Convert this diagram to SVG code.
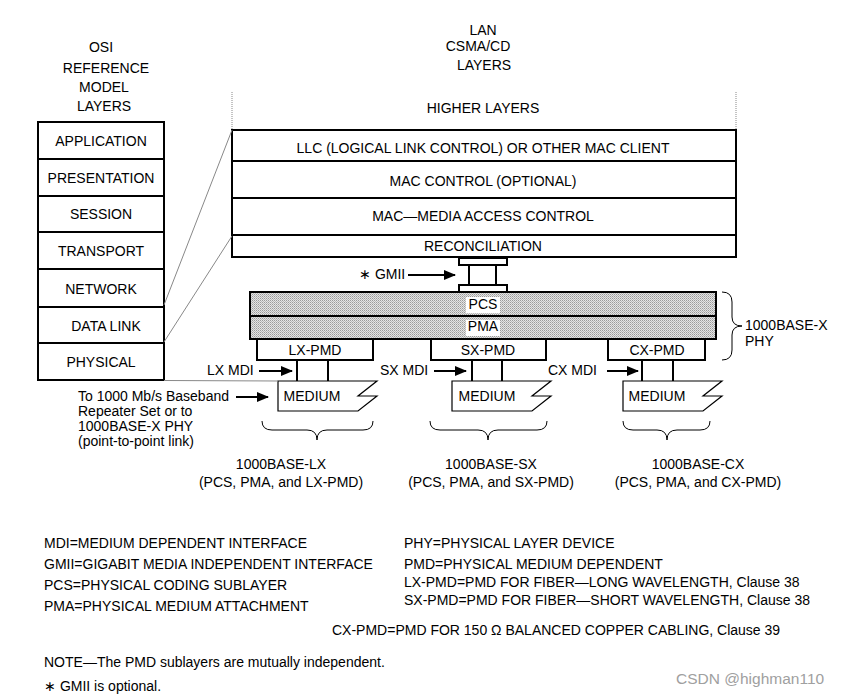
<svg xmlns="http://www.w3.org/2000/svg" width="841" height="697" viewBox="0 0 841 697">
<defs>
<pattern id="hatch" width="2" height="2" patternUnits="userSpaceOnUse">
<rect width="2" height="2" fill="#e4e4e4"/>
<rect width="1" height="1" fill="#9a9a9a"/>
<rect x="1" y="1" width="1" height="1" fill="#b8b8b8"/>
</pattern>
<marker id="arr" markerWidth="12" markerHeight="10" refX="11" refY="5" orient="auto" markerUnits="userSpaceOnUse">
<path d="M0,0 L12,5 L0,10 Z" fill="#000"/>
</marker>
</defs>
<style>
text{font-family:"Liberation Sans",Arial,sans-serif;font-size:14px;fill:#000}
.c{text-anchor:middle}
.box{fill:#fff;stroke:#000;stroke-width:2}
.hb{fill:url(#hatch);stroke:#000;stroke-width:2}
.ln{stroke:#000;stroke-width:2;fill:none}
.gl{stroke:#888;stroke-width:1;fill:none}
.br{stroke:#000;stroke-width:1;fill:none}
.med{fill:#fff;stroke:#000;stroke-width:1.2}
.arw{stroke:#000;stroke-width:2;fill:none;marker-end:url(#arr)}
.wm{font-size:15.5px;fill:#a0a0a0}
</style>
<rect width="841" height="697" fill="#fff"/>

<g id="titles">
<text class="c" x="101" y="52">OSI</text>
<text class="c" x="106" y="73">REFERENCE</text>
<text class="c" x="104" y="92">MODEL</text>
<text class="c" x="104" y="111">LAYERS</text>
<text class="c" x="483" y="35">LAN</text>
<text class="c" x="478" y="51">CSMA/CD</text>
<text class="c" x="484" y="70">LAYERS</text>
</g>

<g id="osi">
<rect class="box" x="38" y="122" width="126" height="258"/>
<line class="ln" x1="38" y1="159" x2="164" y2="159"/>
<line class="ln" x1="38" y1="196" x2="164" y2="196"/>
<line class="ln" x1="38" y1="232" x2="164" y2="232"/>
<line class="ln" x1="38" y1="269" x2="164" y2="269"/>
<line class="ln" x1="38" y1="307" x2="164" y2="307"/>
<line class="ln" x1="38" y1="343" x2="164" y2="343"/>
<text class="c" x="101" y="146">APPLICATION</text>
<text class="c" x="101" y="183">PRESENTATION</text>
<text class="c" x="101" y="219">SESSION</text>
<text class="c" x="101" y="256">TRANSPORT</text>
<text class="c" x="101" y="294">NETWORK</text>
<text class="c" x="106" y="331">DATA LINK</text>
<text class="c" x="101" y="367">PHYSICAL</text>
</g>

<g id="lan">
<line class="gl" x1="232" y1="92" x2="232" y2="130" stroke-dasharray="1 1"/>
<line class="gl" x1="736" y1="92" x2="736" y2="130" stroke-dasharray="1 1"/>
<text class="c" x="483" y="113">HIGHER LAYERS</text>
<rect class="box" x="232" y="130" width="504" height="127"/>
<line class="ln" x1="232" y1="161" x2="736" y2="161"/>
<line class="ln" x1="232" y1="198" x2="736" y2="198"/>
<line class="ln" x1="232" y1="235" x2="736" y2="235"/>
<text class="c" x="483" y="153">LLC (LOGICAL LINK CONTROL) OR OTHER MAC CLIENT</text>
<text class="c" x="483" y="186">MAC CONTROL (OPTIONAL)</text>
<text class="c" x="483" y="221">MAC—MEDIA ACCESS CONTROL</text>
<text class="c" x="483" y="251">RECONCILIATION</text>
</g>

<g id="gmii">
<rect class="box" x="459" y="258" width="48" height="7"/>
<line class="ln" x1="469" y1="265" x2="469" y2="285"/>
<line class="ln" x1="496" y1="265" x2="496" y2="285"/>
<rect class="box" x="459" y="285" width="48" height="7"/>
<text x="359" y="279">∗ GMII</text>
</g>

<g id="phy">
<rect class="hb" x="250" y="292" width="466" height="24"/>
<rect class="hb" x="250" y="316" width="466" height="23"/>
<rect x="466" y="297" width="34" height="16" fill="#fff"/>
<rect x="466" y="320" width="34" height="16" fill="#fff"/>
<text class="c" x="483" y="309">PCS</text>
<text class="c" x="483" y="331">PMA</text>
<rect class="box" x="257" y="339" width="116" height="21"/>
<rect class="box" x="431" y="339" width="115" height="21"/>
<rect class="box" x="608" y="339" width="97" height="21"/>
<text class="c" x="315" y="355">LX-PMD</text>
<text class="c" x="488" y="355">SX-PMD</text>
<text class="c" x="657" y="355">CX-PMD</text>
<path class="br" d="M722,292 Q732,292 732,302 L732,317 Q732,326 742,326 Q732,326 732,335 L732,350 Q732,360 722,360"/>
<text x="745" y="330">1000BASE-X</text>
<text x="745" y="346">PHY</text>
</g>

<g id="media">
<path class="med" d="M278,381 L377,381 L358,396 L377,396 L358,411 L278,411 Z"/>
<text class="c" x="312" y="401">MEDIUM</text>
<path class="med" d="M452,381 L551,381 L532,396 L551,396 L532,411 L452,411 Z"/>
<text class="c" x="487" y="401">MEDIUM</text>
<path class="med" d="M623,381 L722,381 L703,396 L722,396 L703,411 L623,411 Z"/>
<text class="c" x="657" y="401">MEDIUM</text>
<text x="207" y="375">LX MDI</text>
<text x="380" y="375">SX MDI</text>
<text x="548" y="375">CX MDI</text>
<text x="78" y="401">To 1000 Mb/s Baseband</text>
<text x="78" y="416">Repeater Set or to</text>
<text x="78" y="431">1000BASE-X PHY</text>
<text x="78" y="446">(point-to-point link)</text>
</g>

<g id="groups">
<path class="br" d="M262,421 Q262,430 272,430 L307,430 Q317,430 317,440 Q317,430 327,430 L363,430 Q373,430 373,421"/>
<path class="br" d="M430,421 Q430,430 440,430 L478,430 Q488,430 488,440 Q488,430 498,430 L537,430 Q547,430 547,421"/>
<path class="br" d="M623,421 Q623,430 633,430 L657,430 Q667,430 667,440 Q667,430 677,430 L700,430 Q710,430 710,421"/>
<text class="c" x="281" y="469">1000BASE-LX</text>
<text class="c" x="281" y="487">(PCS, PMA, and LX-PMD)</text>
<text class="c" x="491" y="469">1000BASE-SX</text>
<text class="c" x="491" y="487">(PCS, PMA, and SX-PMD)</text>
<text class="c" x="698" y="469">1000BASE-CX</text>
<text class="c" x="698" y="487">(PCS, PMA, and CX-PMD)</text>
</g>

<g id="connectors">
<line class="gl" x1="164" y1="305" x2="232" y2="130"/>
<line class="gl" x1="164" y1="342" x2="232" y2="236"/>
<line class="gl" x1="164" y1="380.5" x2="278" y2="381"/>
<line class="arw" x1="408" y1="275" x2="455" y2="275"/>
<line class="arw" x1="259" y1="371" x2="292" y2="371"/>
<line class="arw" x1="434" y1="371" x2="466" y2="371"/>
<line class="arw" x1="607" y1="371" x2="638" y2="371"/>
<line class="arw" x1="236" y1="397" x2="268" y2="397"/>
<line class="ln" x1="297" y1="360" x2="297" y2="381"/>
<line class="ln" x1="328" y1="360" x2="328" y2="381"/>
<line class="ln" x1="472" y1="360" x2="472" y2="381"/>
<line class="ln" x1="502" y1="360" x2="502" y2="381"/>
<line class="ln" x1="642" y1="360" x2="642" y2="381"/>
<line class="ln" x1="673" y1="360" x2="673" y2="381"/>
</g>

<g id="legend">
<text x="44" y="548">MDI=MEDIUM DEPENDENT INTERFACE</text>
<text x="44" y="569">GMII=GIGABIT MEDIA INDEPENDENT INTERFACE</text>
<text x="44" y="590">PCS=PHYSICAL CODING SUBLAYER</text>
<text x="44" y="611">PMA=PHYSICAL MEDIUM ATTACHMENT</text>
<text x="404" y="548">PHY=PHYSICAL LAYER DEVICE</text>
<text x="404" y="569">PMD=PHYSICAL MEDIUM DEPENDENT</text>
<text x="404" y="587">LX-PMD=PMD FOR FIBER—LONG WAVELENGTH, Clause 38</text>
<text x="404" y="605">SX-PMD=PMD FOR FIBER—SHORT WAVELENGTH, Clause 38</text>
<text x="332" y="635">CX-PMD=PMD FOR 150 Ω BALANCED COPPER CABLING, Clause 39</text>
<text x="44" y="667">NOTE—The PMD sublayers are mutually independent.</text>
<text x="44" y="691">∗ GMII is optional.</text>
<text class="wm" x="676" y="684">CSDN @highman110</text>
</g>
</svg>
